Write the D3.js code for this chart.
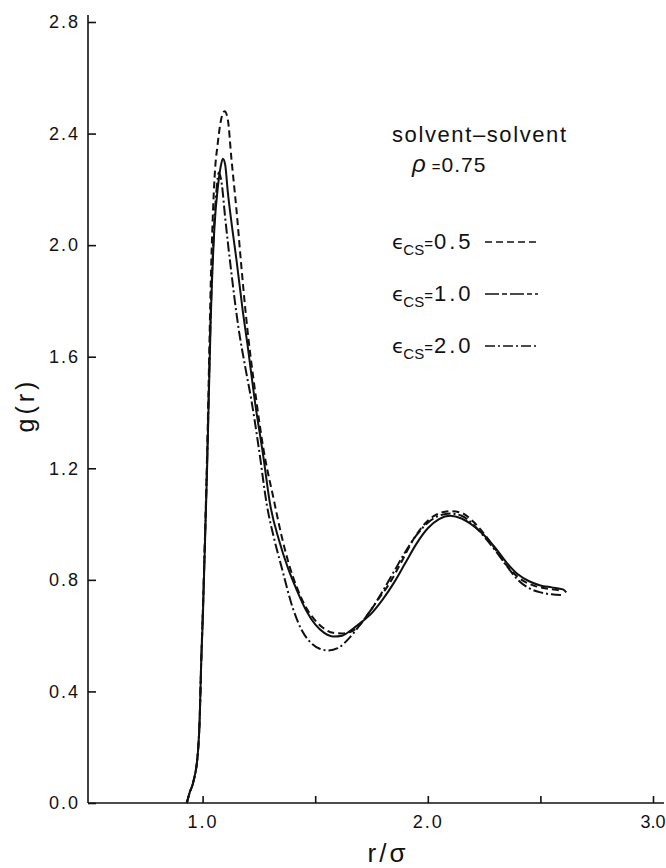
<!DOCTYPE html>
<html>
<head>
<meta charset="utf-8">
<script src="https://cdn.jsdelivr.net/npm/d3@7"></script>
<style>
  body { margin: 0; background: #fff; }
  text { font-family: "Liberation Sans", Arial, sans-serif; fill: #111; }
</style>
</head>
<body>
<div id="chart"></div>
<script>
// g(r) curves: [r/sigma, g(r)]
var eps05 = [[0.93,0],[0.942,0.036],[0.957,0.07],[0.979,0.18],[0.987,0.30],[0.994,0.51],[1.0,0.66],[1.02,1.25],
  [1.039,1.95],[1.053,2.24],[1.068,2.37],[1.085,2.46],[1.098,2.48],[1.112,2.45],[1.128,2.31],[1.15,2.13],[1.172,1.925],
  [1.191,1.76],[1.238,1.447],[1.27,1.27],[1.316,1.088],[1.35,0.96],[1.382,0.86],[1.42,0.77],[1.46,0.70],[1.50,0.655],
  [1.54,0.625],[1.58,0.61],[1.62,0.608],[1.66,0.615],[1.70,0.64],[1.727,0.669],[1.78,0.73],[1.831,0.789],[1.88,0.86],
  [1.935,0.944],[1.98,0.995],[2.03,1.03],[2.098,1.046],[2.15,1.04],[2.20,1.01],[2.25,0.965],[2.30,0.91],[2.35,0.852],
  [2.40,0.81],[2.468,0.78],[2.52,0.77],[2.56,0.765],[2.59,0.762]];
var eps10 = [[0.93,0],[0.942,0.036],[0.957,0.07],[0.979,0.18],[0.987,0.30],[0.994,0.51],[1.001,0.66],[1.02,1.2],
  [1.036,1.73],[1.053,2.07],[1.068,2.21],[1.08,2.28],[1.09,2.31],[1.10,2.29],[1.112,2.19],[1.13,2.07],[1.15,1.95],
  [1.179,1.76],[1.20,1.64],[1.231,1.447],[1.27,1.24],[1.30,1.07],[1.34,0.94],[1.38,0.84],[1.42,0.76],[1.46,0.69],
  [1.50,0.64],[1.54,0.61],[1.58,0.597],[1.62,0.60],[1.66,0.62],[1.70,0.645],[1.75,0.68],[1.80,0.73],[1.85,0.79],
  [1.90,0.86],[1.95,0.93],[2.0,0.985],[2.05,1.018],[2.10,1.03],[2.15,1.02],[2.20,0.995],[2.25,0.96],[2.30,0.915],
  [2.35,0.862],[2.40,0.82],[2.45,0.795],[2.50,0.78],[2.55,0.773],[2.60,0.766],[2.615,0.755]];
var eps20 = [[0.93,0],[0.942,0.036],[0.957,0.07],[0.979,0.18],[0.987,0.30],[0.994,0.51],[1.0,0.66],[1.02,1.22],
  [1.037,1.78],[1.05,2.05],[1.062,2.2],[1.072,2.26],[1.085,2.22],[1.10,2.10],[1.125,1.92],[1.16,1.70],[1.19,1.56],
  [1.216,1.447],[1.25,1.27],[1.285,1.07],[1.32,0.94],[1.35,0.848],[1.40,0.70],[1.44,0.62],[1.48,0.575],[1.52,0.553],
  [1.56,0.547],[1.60,0.555],[1.65,0.59],[1.70,0.64],[1.75,0.695],[1.80,0.76],[1.85,0.83],[1.90,0.90],[1.95,0.96],
  [2.0,1.005],[2.05,1.03],[2.10,1.038],[2.15,1.03],[2.20,1.0],[2.25,0.955],[2.30,0.905],[2.35,0.85],[2.40,0.80],
  [2.45,0.77],[2.50,0.755],[2.55,0.748],[2.60,0.745]];

var xTicks = [1.0, 1.5, 2.0, 2.5, 3.0];
var xTickLabels = ["1.0", "", "2.0", "", "3.0"];
var yTicks = [0.0, 0.4, 0.8, 1.2, 1.6, 2.0, 2.4, 2.8];
var legendValues = ["0.5", "1.0", "2.0"];
var legendDashes = ["7,4", null, "10,3,2,3"];

var W = 666, H = 868;
var x = d3.scaleLinear().domain([0.5, 3.0]).range([90, 653]);
var y = d3.scaleLinear().domain([0, 2.8]).range([803, 22]);

var svg = d3.select("#chart").append("svg")
    .attr("width", W)
    .attr("height", H);

// axes
var xAxis = d3.axisBottom(x)
    .tickValues(xTicks)
    .tickSizeInner(-7)
    .tickSizeOuter(0)
    .tickPadding(12)
    .tickFormat(function(d, i) { return xTickLabels[i]; });
var gx = svg.append("g")
    .attr("transform", "translate(0," + y(0) + ")")
    .call(xAxis);
gx.select(".domain").attr("d", "M" + (x(0.5) - 2) + ",0H" + 664);

var yAxis = d3.axisLeft(y)
    .tickValues(yTicks)
    .tickSizeInner(-8)
    .tickSizeOuter(0)
    .tickPadding(8)
    .tickFormat(d3.format(".1f"));
var gy = svg.append("g")
    .attr("transform", "translate(" + (x(0.5) - 2) + ",0)")
    .call(yAxis);
gy.select(".domain").attr("d", "M0,15V" + y(0));

svg.selectAll(".domain, .tick line")
    .attr("stroke", "#111")
    .attr("stroke-width", 1.6);
svg.selectAll(".tick text")
    .style("font-size", "18px")
    .style("letter-spacing", "2px")
    .attr("fill", "#111");
gx.selectAll(".tick text").attr("dy", "0.71em");
// last label sits against the right edge
gx.selectAll(".tick text")
    .filter(function(d) { return d === 3.0; })
    .style("letter-spacing", "0px")
    .attr("text-anchor", "end")
    .attr("x", 12);

// axis titles
svg.append("text")
    .attr("transform", "translate(34,405) rotate(-90)")
    .attr("text-anchor", "middle")
    .style("font-size", "25px")
    .style("letter-spacing", "4px")
    .text("g(r)");
svg.append("text")
    .attr("x", 388)
    .attr("y", 862)
    .attr("text-anchor", "middle")
    .style("font-size", "26px")
    .style("letter-spacing", "3px")
    .text("r/σ");

// curves
var line = d3.line()
    .x(function(d) { return x(d[0]); })
    .y(function(d) { return y(d[1]); })
    .curve(d3.curveMonotoneX);

var series = [eps05, eps10, eps20];
svg.selectAll(".curve")
    .data(series)
    .enter()
    .append("path")
    .attr("class", "curve")
    .attr("d", line)
    .attr("fill", "none")
    .attr("stroke", "#111")
    .attr("stroke-width", 2)
    .attr("stroke-dasharray", function(d, i) { return legendDashes[i]; });

// legend
svg.append("text")
    .attr("x", 392)
    .attr("y", 142)
    .style("font-size", "22px")
    .style("letter-spacing", "1.6px")
    .text("solvent\u2013solvent");
var rho = svg.append("text")
    .attr("x", 412)
    .attr("y", 172)
    .style("font-size", "21px");
rho.append("tspan").style("font-style", "italic").style("font-size", "24px").text("ρ");
rho.append("tspan").attr("dx", 6).style("font-size", "15px").text("=");
rho.append("tspan").attr("dx", 1).style("letter-spacing", "1px").text("0.75");

var legendGroup = svg.selectAll(".legendGroup")
    .data(legendValues)
    .enter()
    .append("g")
    .attr("transform", function(d, i) { return "translate(392," + (249 + i * 52) + ")"; });
var lt = legendGroup.append("text").style("font-size", "22px");
lt.append("tspan").style("font-family", "'DejaVu Sans'").style("font-size", "20px").text("ϵ");
lt.append("tspan").attr("dy", 6).attr("dx", -1).style("font-size", "15px").text("CS");
lt.append("tspan").attr("dy", -6).style("font-size", "15px").text("=");
lt.append("tspan").attr("dx", 1).style("letter-spacing", "3px").text(function(d) { return d; });
legendGroup.append("line")
    .attr("x1", 93)
    .attr("x2", 146)
    .attr("y1", -7)
    .attr("y2", -7)
    .attr("stroke", "#111")
    .attr("stroke-width", 1.6)
    .attr("stroke-dasharray", function(d, i) { return legendDashes[i] || "14,3,5,3"; });
</script>
</body>
</html>
